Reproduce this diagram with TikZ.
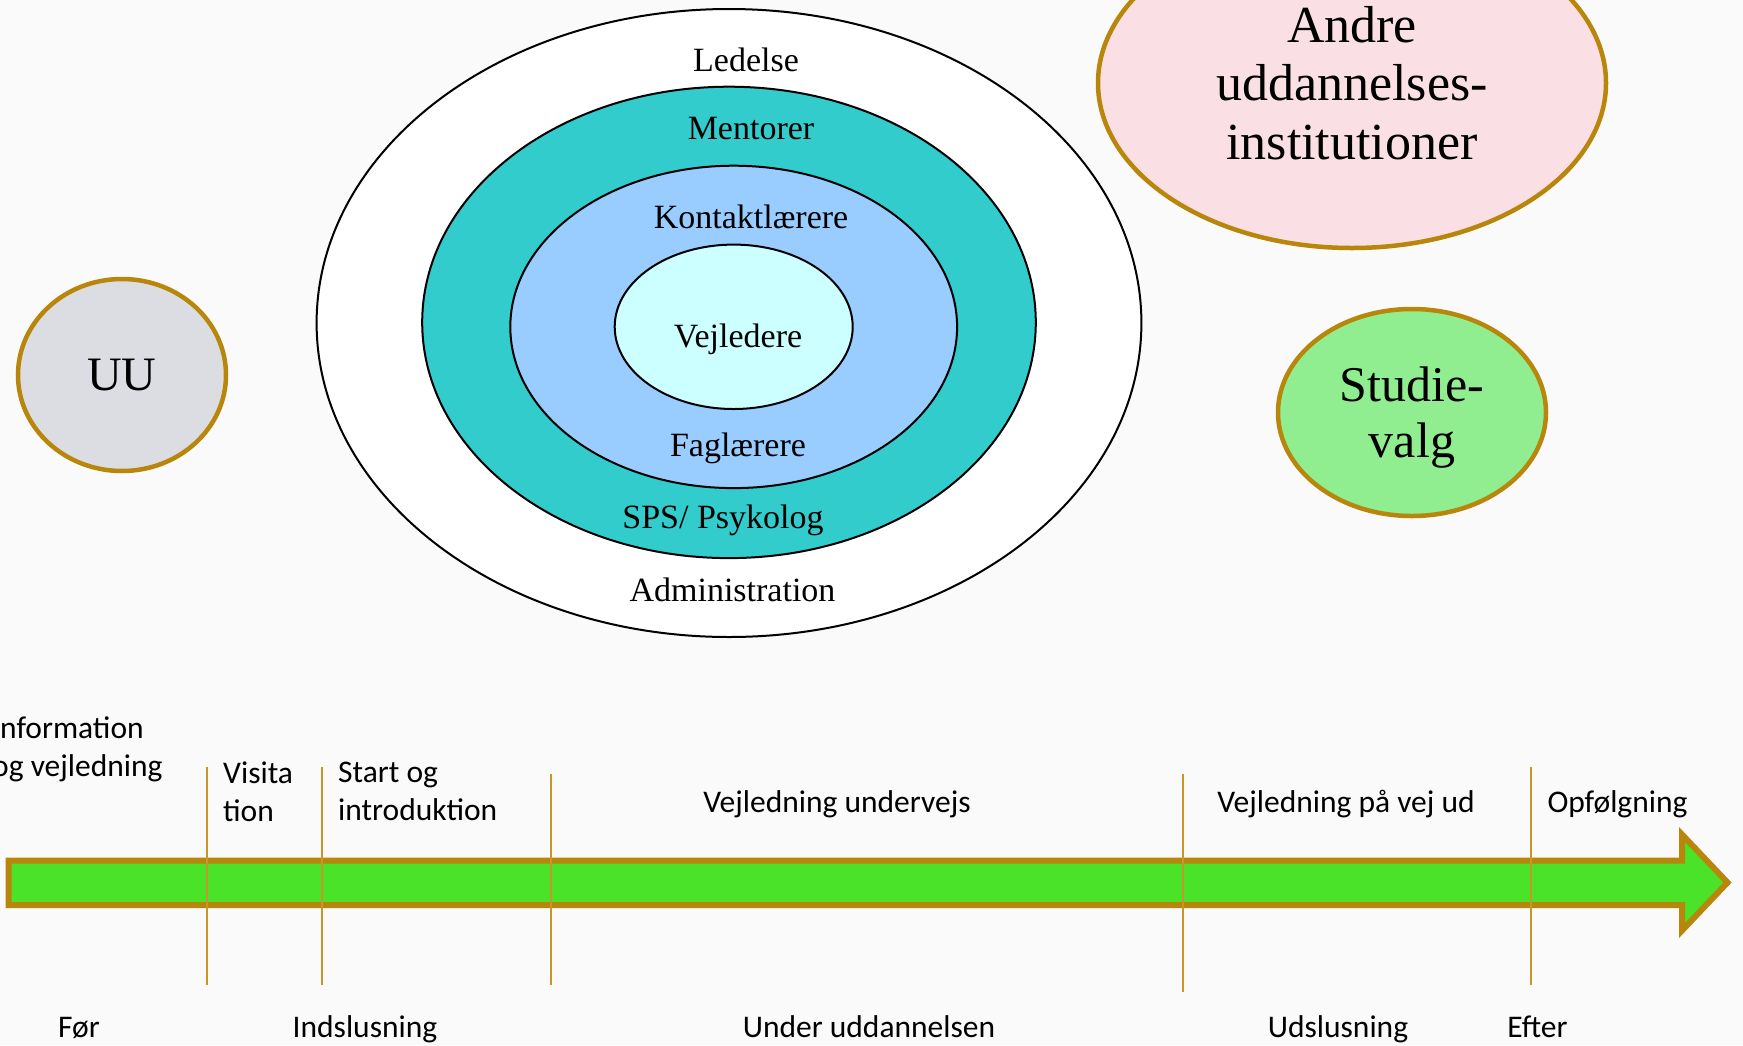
\documentclass[tikz,border=0pt]{standalone}
\usepackage{fontspec}
\setmainfont{Liberation Serif}
\newfontfamily\calib{Carlito}
\usetikzlibrary{shapes.geometric}
\definecolor{bgc}{HTML}{FAFAFA}
\definecolor{gold}{HTML}{B8860B}
\definecolor{divc}{HTML}{C8962A}
\definecolor{arrowgreen}{HTML}{4AE32A}
\definecolor{mentorc}{HTML}{33CCCC}
\definecolor{kontaktc}{HTML}{99CCFF}
\definecolor{vejlc}{HTML}{CCFFFF}
\definecolor{uuc}{HTML}{DCDDE2}
\definecolor{andrec}{HTML}{FAE0E4}
\definecolor{studiec}{HTML}{90EE90}
\tikzset{
  ring/.style={ellipse, draw=black, line width=2pt, inner sep=0pt},
  blob/.style={ellipse, draw=gold, line width=4.5pt, inner sep=0pt, align=center},
  lbl/.style={anchor=base, inner sep=0pt, font=\fontsize{34}{40}\selectfont},
  phase/.style={anchor=base, inner sep=0pt, font=\calib\fontsize{31.5}{38}\selectfont},
  twoline/.style={anchor=west, inner sep=0pt, align=left, font=\calib\fontsize{31.5}{38}\selectfont},
  divider/.style={draw=divc, line width=2pt},
  timeline/.style={draw=gold, line width=6pt, fill=arrowgreen, miter limit=10, line join=miter}
}
\begin{document}
\begin{tikzpicture}[x=1pt,y=-1pt]
\useasboundingbox (0,0) rectangle (1743,1045);
\fill[bgc] (0,0) rectangle (1743,1045);

% nested ellipses
\node[ring, fill=white, minimum width=824.8pt, minimum height=628pt] (outer) at (729,323) {};
\node[ring, fill=mentorc, minimum width=613.6pt, minimum height=471.4pt] (mentor) at (729,322.4) {};
\node[ring, fill=kontaktc, minimum width=446.8pt, minimum height=322.4pt] (kontakt) at (733.7,326.9) {};
\node[ring, fill=vejlc, minimum width=238pt, minimum height=164.4pt] (vejl) at (733.7,326.8) {};

% side ellipses
\node[blob, fill=uuc, minimum width=208pt, minimum height=192pt, font=\fontsize{48}{56}\selectfont] (uu) at (122,375) {UU};
\node[blob, fill=andrec, minimum width=508pt, minimum height=330pt, font=\fontsize{52}{58.5}\selectfont] (andre) at (1352,83) {Andre\\uddannelses-\\institutioner};
\node[blob, fill=studiec, minimum width=268pt, minimum height=207pt, text depth=0pt, font=\fontsize{50}{56}\selectfont] (studie) at (1412,412.5) {Studie-\\valg};

% ellipse labels
\node[lbl] (ledelse) at (746,71) {Ledelse};
\node[lbl] (mentorer) at (751,139) {Mentorer};
\node[lbl] (kontaktl) at (751,228) {Kontaktlærere};
\node[lbl] (vejledere) at (738,347) {Vejledere};
\node[lbl] (faglaerere) at (738,456) {Faglærere};
\node[lbl] (sps) at (723,528) {SPS/ Psykolog};
\node[lbl] (admin) at (732.5,601.5) {Administration};

% timeline arrow
\draw[timeline] (8.6,860.5) -- (1682,860.5) -- (1682,834.5) -- (1727.5,882.5)
  -- (1682,930.5) -- (1682,905) -- (8.6,905) -- cycle;

% dividers
\draw[divider] (206.8,767) -- (206.8,985);
\draw[divider] (322.4,767) -- (322.4,985);
\draw[divider] (551.4,774) -- (551.4,985);
\draw[divider] (1182.7,774) -- (1182.7,992);
\draw[divider] (1530.7,767) -- (1530.7,985);

% phase texts above
\node[twoline] (info) at (-8,749) {Information\\og vejledning};
\node[twoline] (visita) at (223,791.5) {Visita\\tion};
\node[twoline] (start) at (338,791.5) {Start og\\introduktion};
\node[phase] (undervejs) at (837,812) {Vejledning undervejs};
\node[phase] (vejud) at (1346,812) {Vejledning på vej ud};
\node[phase] (opf) at (1617.5,812) {Opfølgning};

% phase texts below
\node[phase] (foer) at (79,1037) {Før};
\node[phase] (inds) at (365,1037) {Indslusning};
\node[phase] (under) at (869,1037) {Under uddannelsen};
\node[phase] (uds) at (1338,1037) {Udslusning};
\node[phase] (efter) at (1537.5,1037) {Efter};
\end{tikzpicture}
\end{document}
